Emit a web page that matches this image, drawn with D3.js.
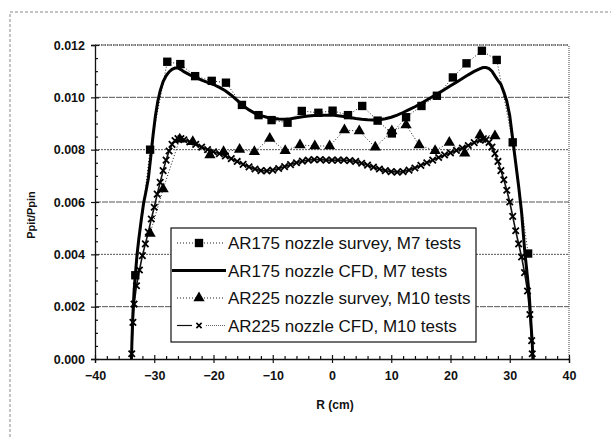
<!DOCTYPE html>
<html>
<head>
<meta charset="utf-8">
<script src="https://cdn.jsdelivr.net/npm/d3@7"></script>
<style>
body { margin: 0; background: #fff; }
text { font-family: "Liberation Sans", Arial, sans-serif; fill: #111; }
</style>
</head>
<body>
<svg id="chart" width="611" height="437"></svg>
<script>
// AR175 nozzle survey, M7 tests (squares)
var survey175R = [-33.2, -30.7, -27.8, -25.6, -23.1, -20.3, -17.9, -15.2, -12.4, -10.2, -7.5, -5.1, -2.3, 0.1,
                  2.7, 5.1, 7.7, 10.1, 12.5, 15.1, 17.7, 20.4, 22.7, 25.3, 27.8, 30.5, 33.1];
var survey175P = [0.0032, 0.0080, 0.01136, 0.01127, 0.01081, 0.01063, 0.01056, 0.00971, 0.00932, 0.00913, 0.00903, 0.00948, 0.00941, 0.00949,
                  0.00932, 0.00967, 0.00911, 0.00862, 0.00924, 0.00967, 0.01006, 0.01076, 0.01130, 0.01178, 0.01143, 0.00828, 0.00403];

// AR175 nozzle CFD, M7 tests (solid)
var cfd175R = [-33.85, -33.75, -33.6, -33.4, -33.2, -32.9, -32.6, -32.2, -31.8, -31.4, -31.0, -30.6, -30.2, -29.8, -29.4, -29.0, -28.5, -28.0, -27.5, -27.0, -26.5, -26.0, -25.5, -25.0,
               -24, -23, -22, -21, -20, -19, -18, -17, -16, -15, -14, -13, -12, -11, -10, -9, -8, -7, -6, -5, -4, -3, -2, -1, 0,
               1, 2, 3, 4, 5, 6, 7, 8, 9, 10, 11, 12, 13, 14, 15, 16, 17, 18, 19, 20, 21, 22, 23, 24, 25,
               25.5, 26, 26.5, 27, 27.5, 28, 28.5, 29, 29.5, 30, 30.5, 31, 31.5, 32, 32.5, 33, 33.3, 33.6, 33.8, 33.9];
var cfd175P = [0.0000, 0.0008, 0.00175, 0.0026, 0.0032, 0.0040, 0.0046, 0.0053, 0.00595, 0.0064, 0.0069, 0.0077, 0.00855, 0.0093, 0.00985, 0.01025, 0.0106, 0.01082, 0.01097, 0.01107, 0.01112, 0.01112, 0.01106, 0.01098,
               0.01086, 0.01076, 0.01066, 0.01057, 0.01049, 0.01038, 0.01025, 0.01008, 0.00988, 0.00968, 0.00952, 0.00939, 0.0093, 0.00924, 0.0092, 0.00917, 0.00916, 0.00918, 0.00922, 0.00926, 0.00929, 0.00931, 0.00932, 0.00932, 0.00932,
               0.0093, 0.00927, 0.00923, 0.00919, 0.00916, 0.00914, 0.00913, 0.00914, 0.00918, 0.00924, 0.00932, 0.00942, 0.00953, 0.00964, 0.00976, 0.0099, 0.01003, 0.01016, 0.0103, 0.01044, 0.01058, 0.01072, 0.01086, 0.01099, 0.0111,
               0.01114, 0.01114, 0.0111, 0.011, 0.01082, 0.01065, 0.0105, 0.0102, 0.00985, 0.0093, 0.0084, 0.0075, 0.0066, 0.0056, 0.0042, 0.0031, 0.0024, 0.0013, 0.0006, 0.0000];

// AR225 nozzle survey, M10 tests (triangles)
var survey225R = [-30.7, -28.5, -25.7, -23.5, -20.6, -18.3, -15.6, -13.1, -10.5, -7.9, -5.4, -2.9, -0.4,
                  2.1, 4.6, 7.3, 10.1, 12.5, 14.7, 17.4, 19.8, 22.4, 25.0, 27.5];
var survey225P = [0.0048, 0.0065, 0.0084, 0.0083, 0.0078, 0.00792, 0.00801, 0.00792, 0.00843, 0.00796, 0.00818, 0.00814, 0.00814,
                  0.00875, 0.00871, 0.00809, 0.00871, 0.00894, 0.00818, 0.00796, 0.00827, 0.00786, 0.00856, 0.00852];

// AR225 nozzle CFD, M10 tests (x markers)
var cfd225R = [-33.8, -33.6, -33.4, -33.0, -32.5, -32.0, -31.5, -31.0, -30.5, -30.0, -29.5, -29.0, -28.5, -28.0, -27.5, -27.0, -26.5, -26.0, -25.5, -25.0,
               -24, -23, -22, -21, -20, -19, -18, -17, -16, -15, -14, -13, -12, -11, -10, -9, -8, -7, -6, -5, -4, -3, -2, -1, 0,
               1, 2, 3, 4, 5, 6, 7, 8, 9, 10, 11, 12, 13, 14, 15, 16, 17, 18, 19, 20, 21, 22, 23, 24, 25,
               25.5, 26, 26.5, 27, 27.5, 28, 28.5, 29, 29.5, 30, 30.5, 31, 31.5, 32, 32.5, 33, 33.4, 33.7, 33.8];
var cfd225P = [0.0002, 0.0014, 0.0021, 0.0028, 0.0034, 0.00395, 0.0044, 0.00485, 0.00535, 0.0058, 0.0063, 0.00675, 0.0072, 0.0076, 0.00795, 0.0082, 0.00835, 0.00842, 0.00842, 0.00838,
               0.0083, 0.0082, 0.0081, 0.008, 0.00792, 0.00785, 0.00776, 0.00766, 0.00755, 0.00744, 0.00734, 0.00726, 0.0072, 0.00719, 0.00722, 0.00728, 0.00735, 0.00743, 0.0075, 0.00756, 0.0076, 0.00762, 0.00762, 0.0076, 0.0076,
               0.0076, 0.0076, 0.00758, 0.00755, 0.00748, 0.00741, 0.00733, 0.00726, 0.0072, 0.00716, 0.00714, 0.00716, 0.00722, 0.0073, 0.0074, 0.0075, 0.0076, 0.0077, 0.0078, 0.00788, 0.00797, 0.00806, 0.00816, 0.00827, 0.00836,
               0.0084, 0.00838, 0.00828, 0.0081, 0.00785, 0.00755, 0.0072, 0.00685, 0.00645, 0.006, 0.00545, 0.0049, 0.0044, 0.0039, 0.0033, 0.0026, 0.0017, 0.0007, 0.0002];

var xTicks = [-40, -30, -20, -10, 0, 10, 20, 30, 40];
var yTicks = [0, 0.002, 0.004, 0.006, 0.008, 0.010, 0.012];
var legendLabels = ["AR175 nozzle survey, M7 tests", "AR175 nozzle CFD, M7 tests",
                    "AR225 nozzle survey, M10 tests", "AR225 nozzle CFD, M10 tests"];

var svg = d3.select("#chart");

var x = d3.scaleLinear().domain([-40, 40]).range([95, 569]);
var y = d3.scaleLinear().domain([0, 0.012]).range([359, 45]);

// scanned page frame
svg.append("rect")
    .attr("x", 10).attr("y", 12)
    .attr("width", 700).attr("height", 500)
    .attr("fill", "none")
    .attr("stroke", "#888")
    .attr("stroke-dasharray", "3,2");

// gridlines
svg.append("g").selectAll("line")
    .data(yTicks.slice(1))
  .enter().append("line")
    .attr("x1", x(-40)).attr("x2", x(40))
    .attr("y1", function(d) { return y(d); })
    .attr("y2", function(d) { return y(d); })
    .attr("stroke", "#555")
    .attr("stroke-width", 1)
    .attr("stroke-dasharray", function(d, i) { return i % 2 == 0 ? "6,1" : "2,1"; });

// right border
svg.append("line")
    .attr("x1", x(40)).attr("x2", x(40))
    .attr("y1", y(0)).attr("y2", y(0.012))
    .attr("stroke", "#444")
    .attr("stroke-dasharray", "1,1");

// axes
var xAxis = svg.append("g")
    .attr("transform", "translate(0," + y(0) + ")")
    .call(d3.axisBottom(x).tickValues(xTicks).tickSize(4).tickPadding(8));
svg.append("g")
    .attr("transform", "translate(0," + y(0) + ")")
    .call(d3.axisBottom(x).tickValues(xTicks).tickSize(-4).tickFormat(""))
    .call(function(g) { g.select(".domain").remove(); });
svg.append("g")
    .attr("transform", "translate(0," + y(0) + ")")
    .call(d3.axisBottom(x).tickValues(d3.range(-38, 40, 2).filter(function(d) { return d % 10 != 0; })).tickSize(-3).tickFormat(""))
    .call(function(g) { g.select(".domain").remove(); });

var yAxis = svg.append("g")
    .attr("transform", "translate(" + x(-40) + ",0)")
    .call(d3.axisLeft(y).tickValues(yTicks).tickSize(4).tickPadding(6).tickFormat(d3.format(".3f")));
svg.append("g")
    .attr("transform", "translate(" + x(-40) + ",0)")
    .call(d3.axisLeft(y).tickValues(yTicks).tickSize(-4).tickFormat(""))
    .call(function(g) { g.select(".domain").remove(); });
svg.append("g")
    .attr("transform", "translate(" + x(-40) + ",0)")
    .call(d3.axisLeft(y).tickValues(d3.range(1, 24).map(function(i) { return i * 0.0005; }).filter(function(d, i) { return (i + 1) % 4 != 0; })).tickSize(-3).tickFormat(""))
    .call(function(g) { g.select(".domain").remove(); });

svg.selectAll(".domain").attr("stroke", "#111").attr("stroke-width", 1.3);
svg.selectAll(".tick line").attr("stroke", "#111").attr("stroke-width", 1.2);
svg.selectAll(".tick text")
    .style("font-family", '"Liberation Sans", Arial, sans-serif')
    .style("font-size", "12.5px")
    .style("font-weight", "bold")
    .attr("fill", "#111");

// top border drawn after the axis so it sits on the 0.012 line
svg.append("line")
    .attr("x1", x(-40)).attr("x2", x(40))
    .attr("y1", y(0.012)).attr("y2", y(0.012))
    .attr("stroke", "#444")
    .attr("stroke-dasharray", "1,1");

// axis titles
svg.append("text")
    .attr("x", 335).attr("y", 409)
    .attr("text-anchor", "middle")
    .style("font-size", "12px")
    .style("font-weight", "bold")
    .text("R (cm)");
svg.append("text")
    .attr("transform", "translate(35,215) rotate(-90)")
    .attr("text-anchor", "middle")
    .style("font-size", "11px")
    .style("font-weight", "bold")
    .text("Ppit/Ppin");

function pts(rs, ps) {
  return rs.map(function(r, i) { return [r, ps[i]]; });
}
var line = d3.line()
    .x(function(d) { return x(d[0]); })
    .y(function(d) { return y(d[1]); });

var s175 = pts(survey175R, survey175P),
    c175 = pts(cfd175R, cfd175P),
    s225 = pts(survey225R, survey225P),
    c225 = pts(cfd225R, cfd225P);

var xMark = "M-3.2,-3.2L3.2,3.2M-3.2,3.2L3.2,-3.2";

// lines
svg.append("path").datum(s175).attr("d", line)
    .attr("fill", "none").attr("stroke", "#222").attr("stroke-width", 1).attr("stroke-dasharray", "1,2");
svg.append("path").datum(s225).attr("d", line)
    .attr("fill", "none").attr("stroke", "#222").attr("stroke-width", 1).attr("stroke-dasharray", "1,2");
svg.append("path").datum(c225).attr("d", line)
    .attr("fill", "none").attr("stroke", "#111").attr("stroke-width", 1.6);
svg.append("path").datum(c175).attr("d", line)
    .attr("fill", "none").attr("stroke", "#000").attr("stroke-width", 3);

// markers
svg.append("g").selectAll("path")
    .data(c225)
  .enter().append("path")
    .attr("transform", function(d) { return "translate(" + x(d[0]) + "," + y(d[1]) + ")"; })
    .attr("d", xMark)
    .attr("stroke", "#000").attr("stroke-width", 1.8);
svg.append("g").selectAll("path")
    .data(s225)
  .enter().append("path")
    .attr("transform", function(d) { return "translate(" + x(d[0]) + "," + y(d[1]) + ")"; })
    .attr("d", d3.symbol().type(d3.symbolTriangle).size(55))
    .attr("fill", "#000");
svg.append("g").selectAll("path")
    .data(s175)
  .enter().append("path")
    .attr("transform", function(d) { return "translate(" + x(d[0]) + "," + y(d[1]) + ")"; })
    .attr("d", d3.symbol().type(d3.symbolSquare).size(70))
    .attr("fill", "#000");

// legend
var lg = svg.append("g");
lg.append("rect")
    .attr("x", 171).attr("y", 228)
    .attr("width", 305).attr("height", 114)
    .attr("fill", "#fff").attr("stroke", "#111").attr("stroke-width", 1.2);

var rowY = d3.scalePoint().domain(d3.range(4)).range([243, 325.5]);

lg.selectAll("text.lab")
    .data(legendLabels)
  .enter().append("text")
    .attr("class", "lab")
    .attr("x", 228)
    .attr("y", function(d, i) { return rowY(i); })
    .attr("dy", "0.36em")
    .style("font-size", "17px")
    .text(function(d) { return d; });

// row 1
lg.append("line").attr("x1", 177).attr("x2", 224).attr("y1", rowY(0)).attr("y2", rowY(0))
    .attr("stroke", "#222").attr("stroke-dasharray", "1,2");
lg.append("path").attr("transform", "translate(199," + rowY(0) + ")")
    .attr("d", d3.symbol().type(d3.symbolSquare).size(70)).attr("fill", "#000");
// row 2
lg.append("line").attr("x1", 172).attr("x2", 226).attr("y1", rowY(1)).attr("y2", rowY(1))
    .attr("stroke", "#000").attr("stroke-width", 3);
// row 3
lg.append("line").attr("x1", 177).attr("x2", 224).attr("y1", rowY(2)).attr("y2", rowY(2))
    .attr("stroke", "#222").attr("stroke-dasharray", "1,2");
lg.append("path").attr("transform", "translate(199," + rowY(2) + ")")
    .attr("d", d3.symbol().type(d3.symbolTriangle).size(55)).attr("fill", "#000");
// row 4
lg.append("line").attr("x1", 177).attr("x2", 192).attr("y1", rowY(3)).attr("y2", rowY(3))
    .attr("stroke", "#111").attr("stroke-width", 1.2);
lg.append("line").attr("x1", 206).attr("x2", 225).attr("y1", rowY(3)).attr("y2", rowY(3))
    .attr("stroke", "#666").attr("stroke-dasharray", "1,1");
lg.append("path").attr("transform", "translate(199," + rowY(3) + ")")
    .attr("d", "M-2.6,-2.6L2.6,2.6M-2.6,2.6L2.6,-2.6").attr("stroke", "#000").attr("stroke-width", 1.6);
</script>
</body>
</html>
